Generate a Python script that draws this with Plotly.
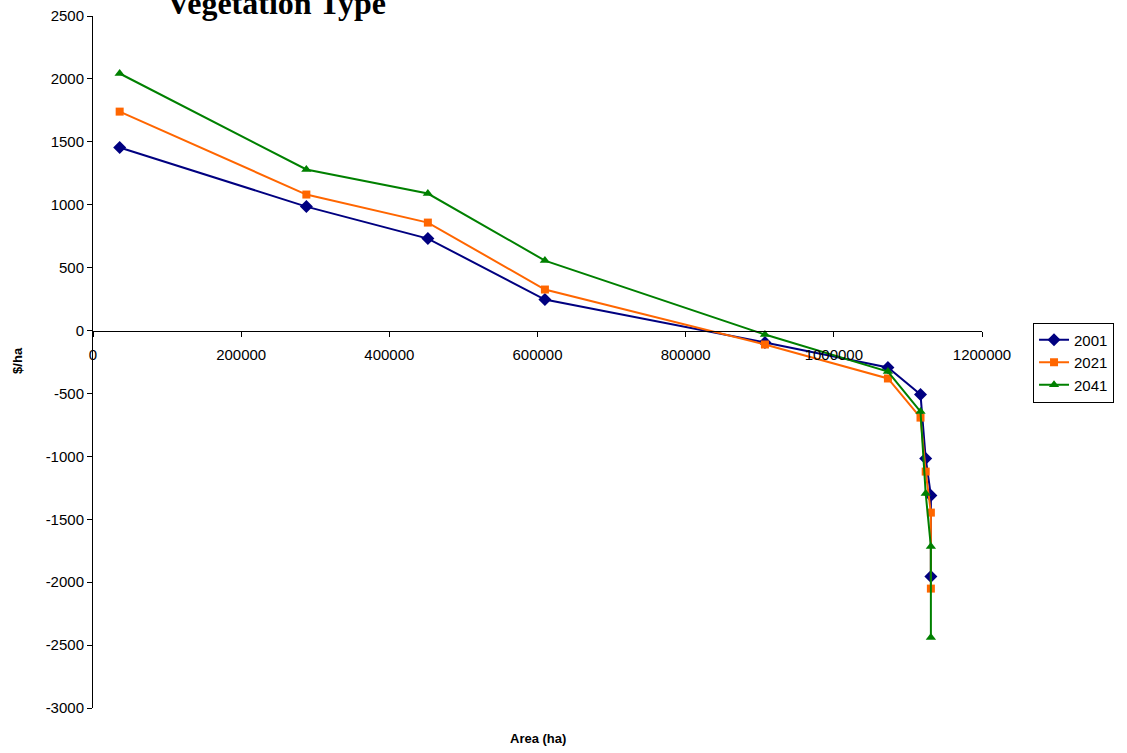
import plotly.graph_objects as go

area = [36000, 288000, 452000, 610000, 907000, 1073000, 1117000, 1124000, 1131000, 1131000]
v2001 = [1455, 985, 731, 246, -95, -294, -509, -1017, -1312, -1955]
v2021 = [1740, 1081, 858, 326, -111, -381, -692, -1121, -1447, -2051]
v2041 = [2043, 1280, 1089, 556, -32, -326, -644, -1296, -1717, -2440]

x_ticks = [0, 200000, 400000, 600000, 800000, 1000000, 1200000]
y_ticks = [2500, 2000, 1500, 1000, 500, 0, -500, -1000, -1500, -2000, -2500, -3000]

series = [
    ("2001", v2001, "#000080", "diamond", 10),
    ("2021", v2021, "#FF6600", "square", 8),
    ("2041", v2041, "#008000", "triangle-up", 9),
]

fig = go.Figure()
for name, vals, color, sym, size in series:
    fig.add_trace(go.Scatter(
        x=area, y=vals, name=name, mode="lines+markers",
        line=dict(color=color, width=2),
        marker=dict(symbol=sym, size=size, color=color),
    ))

y0_paper = (0 - (-3000)) / 5500.0

fig.update_layout(
    width=1127, height=753,
    margin=dict(l=93, r=145, t=16, b=45, autoexpand=False),
    plot_bgcolor="white", paper_bgcolor="white",
    font=dict(family="Arial, Liberation Sans", size=15, color="black"),
    showlegend=True,
    legend=dict(x=1.0574, y=0.557, xanchor="left", yanchor="top",
                bordercolor="black", borderwidth=1, bgcolor="white",
                font=dict(size=15), tracegroupgap=0, itemwidth=30,
                traceorder="normal"),
    xaxis=dict(range=[0, 1200000], tickmode="array", tickvals=x_ticks,
               ticktext=[str(v) for v in x_ticks], automargin=False,
               showgrid=False, zeroline=False,
               showline=True, linecolor="black", linewidth=1,
               ticks="outside", ticklen=5, tickcolor="black",
               ticklabelstandoff=5,
               anchor="free", position=y0_paper),
    yaxis=dict(range=[-3000, 2500], tickmode="array", tickvals=y_ticks,
               ticktext=[str(v) for v in y_ticks], automargin=False,
               showgrid=False, zeroline=False,
               showline=True, linecolor="black", linewidth=1,
               ticks="outside", ticklen=5, tickcolor="black"),
    annotations=[
        dict(text="<b>Vegetation Type</b>", xref="paper", yref="paper",
             x=0.2064, y=0.9906, xanchor="center", yanchor="bottom", showarrow=False,
             font=dict(family="Liberation Serif, Times New Roman", size=32, color="black")),
        dict(text="<b>Area (ha)</b>", xref="paper", yref="paper",
             x=0.5, y=-0.0434, xanchor="center", yanchor="middle", showarrow=False,
             font=dict(size=13)),
        dict(text="<b>$/ha</b>", xref="paper", yref="paper",
             x=-0.0844, y=0.503, xanchor="center", yanchor="middle", showarrow=False,
             textangle=-90, font=dict(size=13)),
    ],
)

fig.write_html("out.html", config={"displayModeBar": False},
               post_script="document.body.style.margin='0';")
